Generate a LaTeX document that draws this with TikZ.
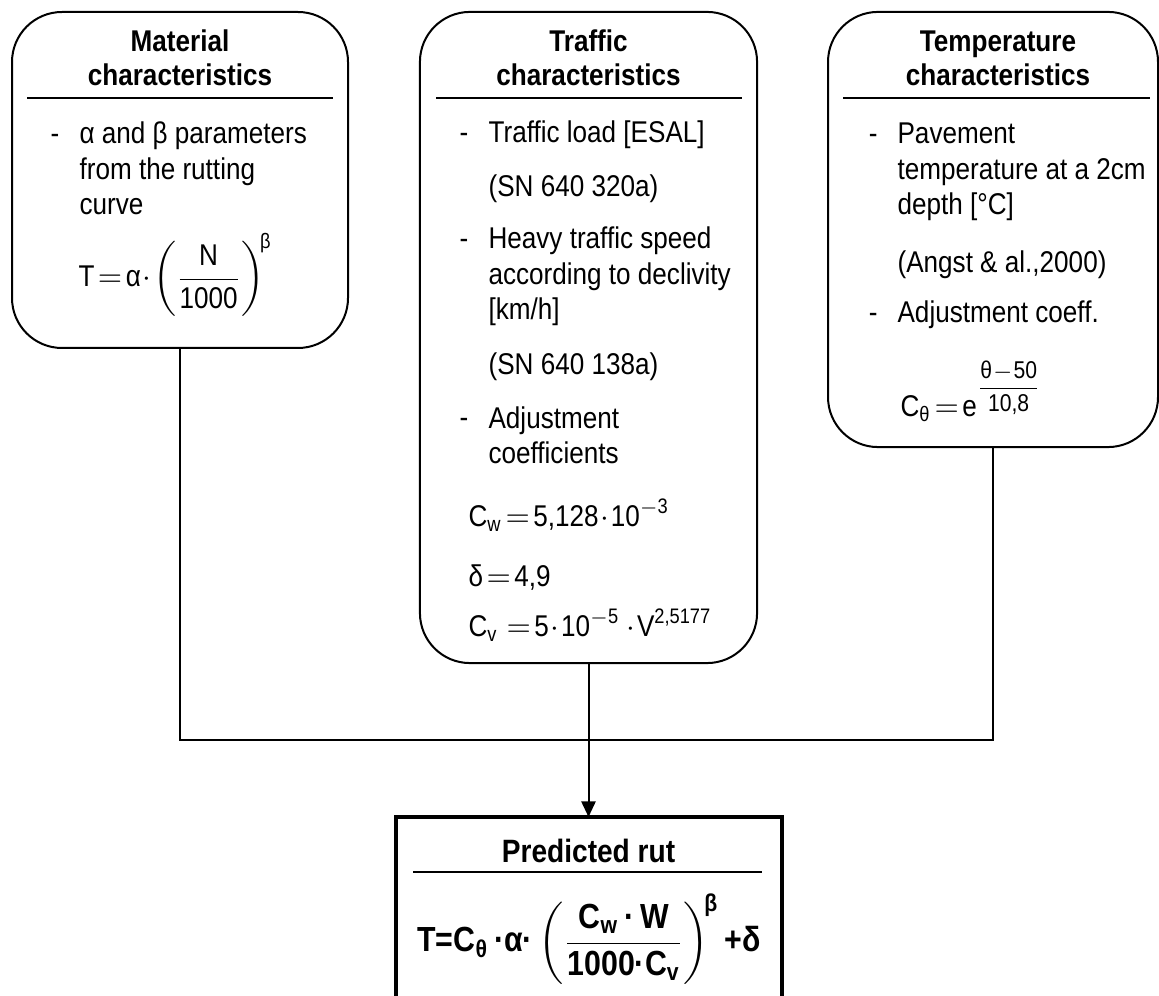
\documentclass[tikz,border=0pt]{standalone}
\usepackage{amsmath}
\usepackage{fontspec}
\setmainfont{Liberation Sans}[FakeStretch=0.87]
\usetikzlibrary{arrows.meta}

\tikzset{
  charbox/.style={draw,line width=0.7pt,rounded corners=17.5pt,inner sep=0pt,outer sep=0pt},
  resbox/.style={draw,line width=1.4pt,inner sep=0pt,outer sep=0pt},
  head/.style={font=\bfseries\fontsize{10.5}{11.9}\selectfont,align=center,inner sep=0pt,anchor=base},
  body/.style={font=\fontsize{10.5}{12.5}\selectfont,align=left,inner sep=0pt,anchor=base west},
  hyph/.style={font=\fontsize{10.5}{12.5}\selectfont,inner sep=0pt,anchor=base east},
  sep/.style={line width=0.5pt},
  link/.style={line width=0.7pt},
}

\begin{document}
\begin{tikzpicture}[x=0.35pt,y=0.35pt]
    \useasboundingbox (0,0) rectangle (1159,-996);
    % Material
    \node[charbox,minimum width=117.6pt,minimum height=117.6pt] (mat) at (180,-180) {};
    \node[head] (matT) at (180,-86) {Material\\characteristics};
    \draw[sep] (27,-98) -- (333,-98);
    \node[body] (matA) at (79,-215) {α and β parameters\\from the rutting\\curve};
    \node[hyph] (matAd) at (60,-144) {-};
    \node[body] (matF) at (78,-287)
      {$\text{T}\!=\!\text{α}\!\cdot\!\left(\dfrac{\text{N}}{\text{1000}}\right)^{\!\text{β}}$};
    % Traffic
    \node[charbox,minimum width=118pt,minimum height=227.9pt] (traf) at (588.5,-337.5) {};
    \node[head] (trafT) at (588.5,-86) {Traffic\\characteristics};
    \draw[sep] (436,-98) -- (742,-98);
    \node[body] (trafA) at (488,-143) {Traffic load [ESAL]};
    \node[hyph] (trafAd) at (469,-143) {-};
    \node[body] (trafB) at (488,-197) {(SN 640 320a)};
    \node[body] (trafC) at (488,-320) {Heavy traffic speed\\according to declivity\\{[km/h]}};
    \node[hyph] (trafCd) at (469,-249) {-};
    \node[body] (trafD) at (488,-375) {(SN 640 138a)};
    \node[body] (trafE) at (488,-464) {Adjustment\\coefficients};
    \node[hyph] (trafEd) at (469,-428) {-};
    \node[body] (trafF1) at (468,-527)
      {$\text{C}_{\text{w}}\!=\!\text{5,128}\!\cdot\!\text{10}^{-\text{3}}$};
    \node[body] (trafF2) at (468,-587) {$\text{δ}\!=\!\text{4,9}$};
    \node[body] (trafF3) at (468,-637)
      {$\text{C}_{\text{v}}\,\!=\!\text{5}\!\cdot\!\text{10}^{-\text{5}}\cdot\!\text{V}^{\text{2,5177}}$};
    % Temperature
    \node[charbox,minimum width=115.5pt,minimum height=152.3pt] (temp) at (993,-229.5) {};
    \node[head] (tempT) at (998,-86) {Temperature\\characteristics};
    \draw[sep] (843,-98) -- (1150,-98);
    \node[body] (tempA) at (897,-215) {Pavement\\temperature at a 2cm\\depth [°C]};
    \node[hyph] (tempAd) at (878,-144) {-};
    \node[body] (tempB) at (897,-273) {(Angst \& al.,2000)};
    \node[body] (tempC) at (897,-323) {Adjustment coeff.};
    \node[hyph] (tempCd) at (878,-323) {-};
    \node[body] (tempF) at (900,-417)
      {$\text{C}_{\text{θ}}\!=\!\text{e}$\raisebox{8pt}{\fontsize{8.5}{9}\selectfont$\dfrac{\text{θ}\!-\!\text{50}}{\text{10,8}}$}};
    % Predicted rut
    \node[resbox,minimum width=135.1pt,minimum height=70pt,anchor=north] (rut) at (588.5,-817) {};
    \node[head,font=\bfseries\fontsize{11.3}{13}\selectfont] (rutT) at (588.5,-862) {Predicted rut};
    \draw[sep] (413,-872) -- (762,-872);
    \node[inner sep=0pt,font=\bfseries\fontsize{12.2}{15}\selectfont] (rutF) at (589,-939)
      {$\text{T=C}_{\text{θ}}\text{\,·α·}\left(\dfrac{\text{C}_{\text{w}}\text{\,·\,W}}{\text{1000·C}_{\text{v}}}\right)^{\!\text{β}}\text{+δ}$};
    % links
    \coordinate (jn) at (588.5,-740);
    \draw[link] (mat.south) |- (jn) -| (temp.south);
    \draw[link,-{Triangle[length=5.5pt,width=5pt]}] (traf.south) -- (rut.north);
\end{tikzpicture}
\end{document}
